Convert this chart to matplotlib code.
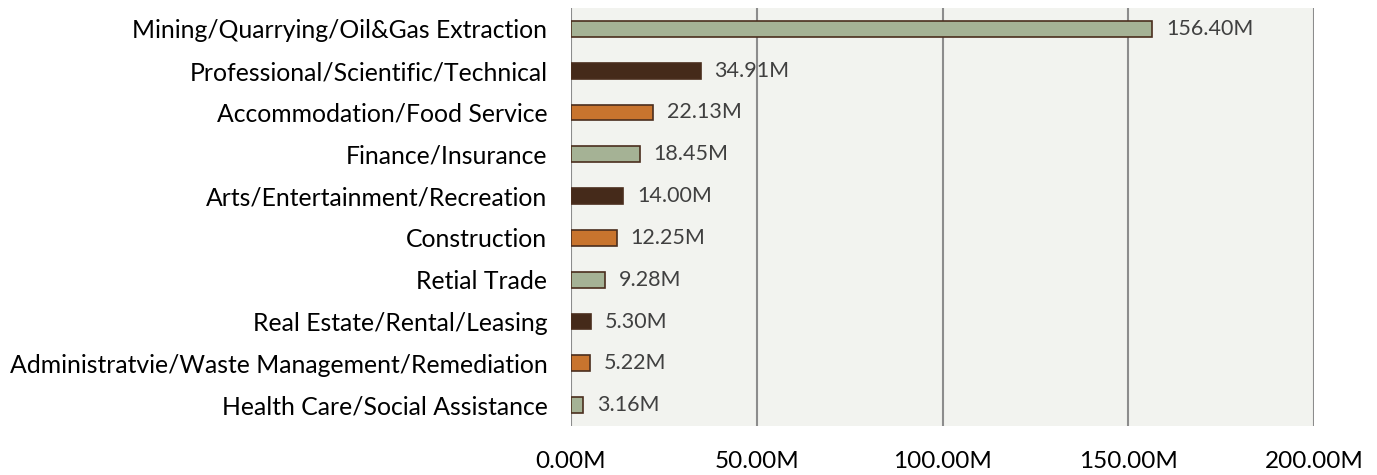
import matplotlib.pyplot as plt

categories = [
    "Mining/Quarrying/Oil&Gas Extraction",
    "Professional/Scientific/Technical",
    "Accommodation/Food Service",
    "Finance/Insurance",
    "Arts/Entertainment/Recreation",
    "Construction",
    "Retial Trade",
    "Real Estate/Rental/Leasing",
    "Administratvie/Waste Management/Remediation",
    "Health Care/Social Assistance",
]
values = [156.40, 34.91, 22.13, 18.45, 14.00, 12.25, 9.28, 5.30, 5.22, 3.16]
ticks = [0, 50, 100, 150, 200]

palette = ["#A5B295", "#452A1A", "#C8742E"]
edge = "#4A2E1E"

plt.rcParams['font.family'] = ['Lato', 'DejaVu Sans']

fig = plt.figure(figsize=(13.77, 4.75), dpi=100)
ax = fig.add_axes([571 / 1377, 1 - 426 / 475, (1314 - 571) / 1377, (426 - 8) / 475])
ax.set_facecolor("#F2F3EF")

ypos = list(range(len(categories)))
colors = [palette[i % 3] for i in ypos]
ax.barh(ypos, values, height=0.38, color=colors, edgecolor=edge, linewidth=1.2, zorder=3)

for y, v in zip(ypos, values):
    ax.annotate(f"{v:.2f}M", (v, y), xytext=(10, 0), textcoords="offset points",
                va="center", ha="left", fontsize=15.5, color="#404040", zorder=4)

ax.set_xlim(0, 200)
ax.set_ylim(len(categories) - 0.5, -0.5)
ax.set_yticks(ypos)
ax.set_yticklabels(categories, fontsize=17.8, color="black")
ax.set_xticks(ticks)
ax.set_xticklabels([f"{t:.2f}M" for t in ticks], fontsize=17.5, color="black")
ax.tick_params(axis="both", length=0)
ax.tick_params(axis="x", pad=18)
ax.tick_params(axis="y", pad=17)
ax.grid(axis="x", color="#8C8C8C", linewidth=1.5, zorder=1)
for s in ax.spines.values():
    s.set_visible(False)

fig.savefig("out.png", dpi=100)
